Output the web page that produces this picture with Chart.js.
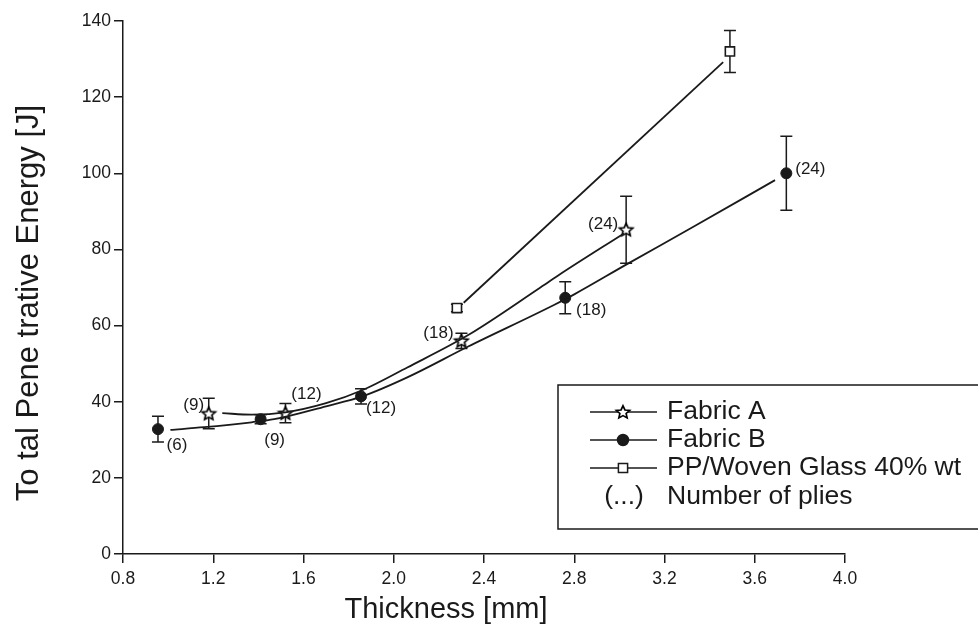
<!DOCTYPE html>
<html>
<head>
<meta charset="utf-8">
<script src="https://cdn.jsdelivr.net/npm/chart.js@4.4.1/dist/chart.umd.min.js"></script>
<style>
  html, body { margin: 0; padding: 0; background: #fff; }
  #caixa { width: 978px; height: 637px; }
</style>
</head>
<body>
<div id="caixa"><canvas id="grafico"></canvas></div>
<script>
// tick values
const xTicks = [0.8, 1.2, 1.6, 2.0, 2.4, 2.8, 3.2, 3.6, 4.0];
const yTicks = [0, 20, 40, 60, 80, 100, 120, 140];

const fabricA_x = [1.18, 1.52, 2.30, 3.03];
const fabricA_y = [36.9, 37.0, 56.0, 85.2];
const fabricA_err = [4.0, 2.5, 2.0, 8.8];
const fabricA_plies = ['(9)', '(12)', '(18)', '(24)'];

const fabricB_x = [0.955, 1.41, 1.855, 2.76, 3.74];
const fabricB_y = [32.8, 35.4, 41.4, 67.3, 100.0];
const fabricB_err = [3.4, 1.2, 2.0, 4.2, 9.7];
const fabricB_plies = ['(6)', '(9)', '(12)', '(18)', '(24)'];

const pp_x = [2.28, 3.49];
const pp_y = [64.6, 132.0];
const pp_err = [1.0, 5.5];

// fitted curves
const fitA_x = [1.24, 1.37, 1.52, 1.70, 1.86, 2.06, 2.33, 2.65, 2.74, 3.02];
const fitA_y = [37.0, 36.6, 37.2, 39.6, 43.0, 49.0, 57.5, 70.0, 73.6, 84.2];
const fitB_x = [1.01, 1.16, 1.37, 1.47, 1.70, 1.86, 2.06, 2.33, 2.71, 2.80, 3.03, 3.33, 3.69];
const fitB_y = [32.6, 33.3, 34.6, 35.4, 38.8, 41.4, 46.4, 54.5, 65.4, 68.2, 76.0, 86.0, 98.2];
const fitPP_x = [2.31, 3.46];
const fitPP_y = [66.0, 129.2];

// label placement around markers (px)
const offA = [[-15, -8], [21, -19], [-23, -7], [-23, -5]];
const offB = [[19, 16], [14, 21], [20, 12], [26, 13], [24, -4]];

const FONTE = '"Liberation Sans", Arial, Helvetica, sans-serif';
const TINTA = '#1a1a1a';

function pares(xs, ys) { return xs.map((x, i) => ({ x: x, y: ys[i] })); }

function fazEstrela(r) {
    const c = document.createElement('canvas');
    const s = Math.ceil(r * 2 + 4);
    c.width = s; c.height = s;
    const g = c.getContext('2d');
    g.beginPath();
    for (let i = 0; i < 10; i++) {
        const a = -Math.PI / 2 + i * Math.PI / 5;
        const rr = i % 2 ? r * 0.47 : r;
        g.lineTo(s / 2 + rr * Math.cos(a), s / 2 + rr * 0.95 * Math.sin(a) + 0.5);
    }
    g.closePath();
    g.fillStyle = '#fff'; g.fill();
    g.lineWidth = 1.7; g.strokeStyle = '#000'; g.stroke();
    return c;
}
const estrela = fazEstrela(7);

const barrasErro = {
    id: 'barrasErro',
    beforeDatasetsDraw(chart) {
        const ctx = chart.ctx, xs = chart.scales.x, ys = chart.scales.y;
        ctx.save();
        ctx.strokeStyle = TINTA; ctx.lineWidth = 1.5;
        chart.data.datasets.forEach(ds => {
            if (!ds.erros) return;
            ds.data.forEach((p, i) => {
                const px = xs.getPixelForValue(p.x);
                const top = ys.getPixelForValue(p.y + ds.erros[i]);
                const bot = ys.getPixelForValue(p.y - ds.erros[i]);
                ctx.beginPath();
                ctx.moveTo(px, top); ctx.lineTo(px, bot);
                ctx.moveTo(px - 6, top); ctx.lineTo(px + 6, top);
                ctx.moveTo(px - 6, bot); ctx.lineTo(px + 6, bot);
                ctx.stroke();
            });
        });
        ctx.restore();
    }
};

const rotulos = {
    id: 'rotulos',
    afterDatasetsDraw(chart) {
        const ctx = chart.ctx, xs = chart.scales.x, ys = chart.scales.y;
        ctx.save();
        ctx.fillStyle = TINTA;
        ctx.font = '17px ' + FONTE;
        ctx.textAlign = 'center'; ctx.textBaseline = 'middle';
        chart.data.datasets.forEach(ds => {
            if (!ds.plies) return;
            ds.data.forEach((p, i) => {
                const o = ds.offsets[i];
                ctx.fillText(ds.plies[i], xs.getPixelForValue(p.x) + o[0], ys.getPixelForValue(p.y) + o[1]);
            });
        });
        // axis titles
        ctx.font = '29px ' + FONTE;
        ctx.fillText('Thickness [mm]', 446, 610);
        ctx.font = '31px ' + FONTE;
        ctx.translate(29, 303);
        ctx.rotate(-Math.PI / 2);
        ctx.fillText('To tal Pene trative Energy [J]', 0, 0);
        ctx.restore();
    }
};

const legenda = {
    id: 'legenda',
    afterDraw(chart) {
        const ctx = chart.ctx;
        ctx.save();
        ctx.fillStyle = '#fff';
        ctx.fillRect(558, 385, 430, 144);
        ctx.strokeStyle = TINTA; ctx.lineWidth = 1.5;
        ctx.strokeRect(558, 385, 430, 144);
        ctx.font = '26.5px ' + FONTE;
        ctx.textBaseline = 'middle';
        let y = 412;
        chart.data.datasets.filter(d => d.naLegenda).forEach(ds => {
            ctx.beginPath();
            ctx.moveTo(590, y); ctx.lineTo(657, y);
            ctx.stroke();
            ctx.fillStyle = ds.backgroundColor;
            ctx.strokeStyle = TINTA;
            Chart.helpers.drawPoint(ctx, {
                pointStyle: ds.pointStyle, radius: ds.pointRadius,
                rotation: 0, borderWidth: ds.borderWidth
            }, 623, y);
            ctx.fillStyle = TINTA;
            ctx.textAlign = 'left';
            ctx.fillText(ds.label, 667, y);
            y += 28;
        });
        ctx.textAlign = 'center';
        ctx.fillText('(...)', 624, y + 1);
        ctx.textAlign = 'left';
        ctx.fillText('Number of plies', 667, y + 1);
        ctx.restore();
    }
};

function curva(xs, ys) {
    return {
        data: pares(xs, ys), showLine: true, pointRadius: 0,
        borderColor: TINTA, borderWidth: 1.8,
        cubicInterpolationMode: 'monotone', fill: false
    };
}

new Chart(document.getElementById('grafico'), {
    type: 'scatter',
    data: {
        datasets: [
            curva(fitA_x, fitA_y),
            curva(fitB_x, fitB_y),
            curva(fitPP_x, fitPP_y),
            {
                label: 'Fabric A', naLegenda: true,
                data: pares(fabricA_x, fabricA_y), erros: fabricA_err,
                plies: fabricA_plies, offsets: offA,
                pointStyle: estrela, pointRadius: 7, borderWidth: 1.7,
                backgroundColor: '#fff', borderColor: TINTA
            },
            {
                label: 'Fabric B', naLegenda: true,
                data: pares(fabricB_x, fabricB_y), erros: fabricB_err,
                plies: fabricB_plies, offsets: offB,
                pointStyle: 'circle', pointRadius: 5.5, borderWidth: 1,
                backgroundColor: TINTA, borderColor: TINTA
            },
            {
                label: 'PP/Woven Glass 40% wt', naLegenda: true,
                data: pares(pp_x, pp_y), erros: pp_err,
                pointStyle: 'rect', pointRadius: 6.5, borderWidth: 1.6,
                backgroundColor: '#fff', borderColor: TINTA
            }
        ]
    },
    options: {
        responsive: true,
        maintainAspectRatio: false,
        animation: false,
        layout: { padding: { left: 0, top: 21, right: 133, bottom: 0 } },
        plugins: { legend: { display: false }, tooltip: { enabled: false } },
        scales: {
            x: {
                type: 'linear', min: 0.8, max: 4.0,
                afterBuildTicks: s => { s.ticks = xTicks.map(v => ({ value: v })); },
                afterFit: s => { s.height = 83; },
                grid: { display: true, drawOnChartArea: false, drawTicks: true, tickLength: 9, color: TINTA, lineWidth: 1.5 },
                border: { display: true, color: TINTA, width: 1.5 },
                ticks: { color: TINTA, font: { family: FONTE, size: 17.5 }, padding: 6, maxRotation: 0,
                         callback: v => Number(v).toFixed(1) }
            },
            y: {
                type: 'linear', min: 0, max: 140,
                afterBuildTicks: s => { s.ticks = yTicks.map(v => ({ value: v })); },
                afterFit: s => { s.width = 123; },
                grid: { display: true, drawOnChartArea: false, drawTicks: true, tickLength: 9, color: TINTA, lineWidth: 1.5 },
                border: { display: true, color: TINTA, width: 1.5 },
                ticks: { color: TINTA, font: { family: FONTE, size: 17.5 }, padding: 3 }
            }
        }
    },
    plugins: [barrasErro, rotulos, legenda]
});
</script>
</body>
</html>
